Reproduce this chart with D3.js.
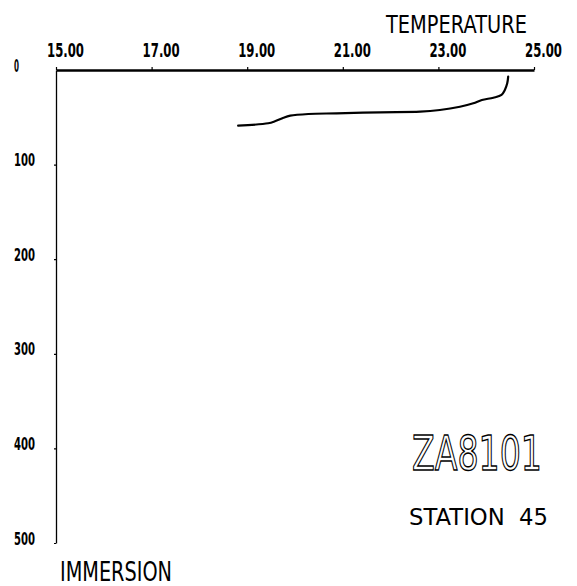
<!DOCTYPE html>
<html>
<head>
<meta charset="utf-8">
<script src="https://cdn.jsdelivr.net/npm/d3@7"></script>
<style>
html,body{margin:0;padding:0;background:#fff;}
svg{display:block;}
</style>
</head>
<body>
<svg id="chart" width="577" height="586"></svg>
<script>
// Data
const temperatureTicks = [15, 17, 19, 21, 23, 25];
const depthTicks = [0, 100, 200, 300, 400, 500];
const profileTemperature = [18.81, 19.44, 19.58, 19.76, 19.90, 20.28, 20.87, 21.78, 22.62, 23.03, 23.45, 23.73, 23.91, 24.15, 24.32, 24.39, 24.44, 24.46];
const profileDepth       = [58.9, 56.3, 54.2, 50.4, 48.3, 46.5, 45.8, 44.7, 44.1, 42.3, 38.8, 35.2, 31.7, 29.3, 26.4, 21.1, 14.1, 7.1];
const xTitle = "TEMPERATURE";
const yTitle = "IMMERSION";
const cruise = "ZA8101";
const station = "STATION  45";

const svg = d3.select("#chart");
const x = d3.scaleLinear().domain([15, 25]).range([56, 534]);
const y = d3.scaleLinear().domain([0, 500]).range([70, 543]);

const font = "'DejaVu Sans', sans-serif";

// Top axis
const xAxis = d3.axisTop(x).tickValues(temperatureTicks).tickSize(3).tickSizeOuter(0)
  .tickFormat(d3.format(".2f"));
const gx = svg.append("g").attr("transform", `translate(0,${y(0)})`).call(xAxis);
gx.select(".domain").attr("stroke", "#000").attr("stroke-width", 2.6);
gx.selectAll(".tick line").attr("stroke", "#000").attr("stroke-width", 1.2);
gx.selectAll(".tick text")
  .attr("y", -13).attr("dy", 0).attr("dx", 9)
  .attr("font-family", font).attr("font-weight", "bold").attr("font-size", 20)
  .attr("fill", "#000")
  .attr("textLength", 37).attr("lengthAdjust", "spacingAndGlyphs");

// Left axis
const yAxis = d3.axisLeft(y).tickValues(depthTicks).tickSize(2).tickSizeOuter(0)
  .tickFormat(d3.format("d"));
const gy = svg.append("g").attr("transform", `translate(${x(15)},0)`).call(yAxis);
gy.select(".domain").attr("stroke", "#000").attr("stroke-width", 1.3);
gy.selectAll(".tick line").attr("stroke", "#000").attr("stroke-width", 1.2)
  .attr("opacity", d => d === 0 ? 0 : 1);
gy.selectAll(".tick text")
  .attr("text-anchor", "start").attr("x", -42).attr("dy", 0).attr("y", 1)
  .attr("font-family", font).attr("font-weight", "bold").attr("font-size", 17)
  .attr("fill", "#000")
  .attr("textLength", d => d === 0 ? 5 : 21).attr("lengthAdjust", "spacingAndGlyphs");

// Titles
svg.append("text").attr("x", 386).attr("y", 33).text(xTitle)
  .attr("font-family", font).attr("font-size", 24).attr("fill", "#000")
  .attr("textLength", 141).attr("lengthAdjust", "spacingAndGlyphs");
svg.append("text").attr("x", 60).attr("y", 581).text(yTitle)
  .attr("font-family", font).attr("font-size", 26).attr("fill", "#000")
  .attr("textLength", 112).attr("lengthAdjust", "spacingAndGlyphs");

svg.append("text").attr("x", 412).attr("y", 470).text(cruise)
  .attr("font-family", font).attr("font-size", 48).attr("font-weight", "normal")
  .attr("fill", "#fff").attr("stroke", "#000").attr("stroke-width", 1.4)
  .attr("textLength", 130).attr("lengthAdjust", "spacingAndGlyphs");
svg.append("text").attr("x", 409).attr("y", 525).text(station)
  .attr("font-family", font).attr("font-size", 23).attr("fill", "#000")
  .attr("textLength", 139).attr("lengthAdjust", "spacingAndGlyphs")
  .style("white-space", "pre");

// Profile
const pts = profileTemperature.map((t, i) => [t, profileDepth[i]]);
svg.append("path").datum(pts)
  .attr("d", d3.line().x(d => x(d[0])).y(d => y(d[1])).curve(d3.curveCatmullRom.alpha(0.5)))
  .attr("fill", "none").attr("stroke", "#000").attr("stroke-width", 2.2)
  .attr("stroke-linejoin", "round").attr("stroke-linecap", "round");
</script>
</body>
</html>
